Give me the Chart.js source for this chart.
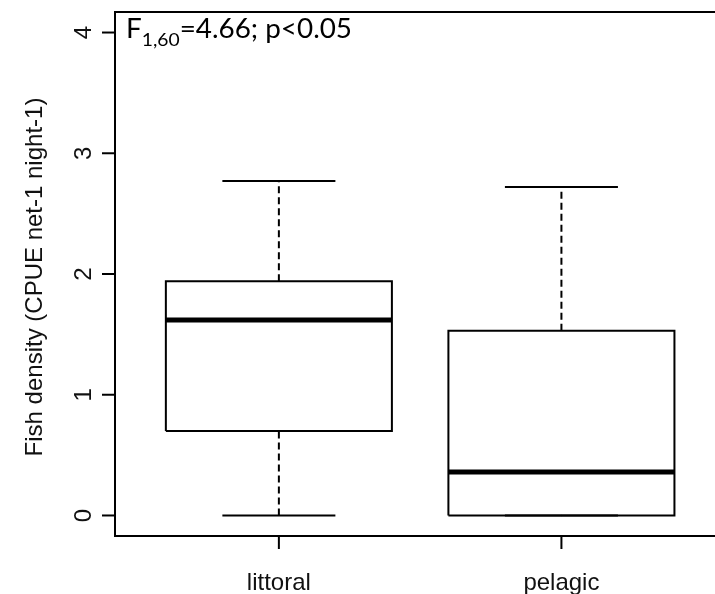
<!DOCTYPE html>
<html>
<head>
<meta charset="utf-8">
<script src="https://cdn.jsdelivr.net/npm/chart.js@4/dist/chart.umd.min.js"></script>
<style>
  html, body { margin: 0; padding: 0; background: #ffffff; }
  #c { display: block; }
</style>
</head>
<body>
<canvas id="c" width="715" height="594"></canvas>
<script>
// ---- Data ----
const categories   = ['littoral', 'pelagic'];
const positions    = [1, 2];
const whiskerLow   = [0.00, 0.00];
const quartile1    = [0.70, 0.00];
const medians      = [1.62, 0.36];
const quartile3    = [1.94, 1.53];
const whiskerHigh  = [2.77, 2.72];
const yTickValues  = [0, 1, 2, 3, 4];
const yAxisTitle   = 'Fish density (CPUE net-1 night-1)';
const statMain     = 'F';
const statSub      = '1,60';
const statRest     = '=4.66; p<0.05';

// ---- Geometry / style constants ----
const BOX_HALF = 0.4;
const CAP_HALF = 0.2;
const AXIS_FONT = '24px "Liberation Sans", Arial, sans-serif';

const datasets = [];
function seg(points, width, dash) {
  datasets.push({
    data: points,
    showLine: true,
    borderColor: '#000000',
    backgroundColor: '#000000',
    borderWidth: width,
    borderDash: dash || [],
    pointRadius: 0,
    pointHoverRadius: 0,
    fill: false,
    tension: 0,
    borderCapStyle: 'butt',
    borderJoinStyle: 'miter'
  });
}
categories.forEach((cat, i) => {
  const x = positions[i];
  // whiskers (dashed)
  seg([{x: x, y: quartile3[i]}, {x: x, y: whiskerHigh[i]}], 2, [7, 4]);
  seg([{x: x, y: whiskerLow[i]}, {x: x, y: quartile1[i]}], 2, [7, 4]);
  // caps
  seg([{x: x - CAP_HALF, y: whiskerHigh[i]}, {x: x + CAP_HALF, y: whiskerHigh[i]}], 2);
  seg([{x: x - CAP_HALF, y: whiskerLow[i]}, {x: x + CAP_HALF, y: whiskerLow[i]}], 2);
  // box
  seg([
    {x: x - BOX_HALF, y: quartile1[i]},
    {x: x + BOX_HALF, y: quartile1[i]},
    {x: x + BOX_HALF, y: quartile3[i]},
    {x: x - BOX_HALF, y: quartile3[i]},
    {x: x - BOX_HALF, y: quartile1[i]}
  ], 2);
  // median
  seg([{x: x - BOX_HALF, y: medians[i]}, {x: x + BOX_HALF, y: medians[i]}], 5);
});

const decorPlugin = {
  id: 'decor',
  beforeDraw(chart) {
    const ctx = chart.ctx;
    ctx.save();
    ctx.fillStyle = '#ffffff';
    ctx.fillRect(0, 0, chart.width, chart.height);
    ctx.restore();
  },
  afterDraw(chart) {
    const ctx = chart.ctx;
    const a = chart.chartArea;
    const xs = chart.scales.x, ys = chart.scales.y;
    ctx.save();
    ctx.strokeStyle = '#000000';
    ctx.fillStyle = '#111111';
    ctx.lineWidth = 2;
    ctx.lineCap = 'square';
    // frame
    ctx.beginPath();
    ctx.moveTo(chart.width + 5, a.top);
    ctx.lineTo(a.left, a.top);
    ctx.lineTo(a.left, a.bottom);
    ctx.lineTo(chart.width + 5, a.bottom);
    ctx.stroke();
    ctx.lineCap = 'butt';
    // y ticks + labels (rotated, R style)
    ctx.font = AXIS_FONT;
    yTickValues.forEach(v => {
      const py = ys.getPixelForValue(v);
      ctx.beginPath();
      ctx.moveTo(a.left - 13, py);
      ctx.lineTo(a.left, py);
      ctx.stroke();
      ctx.save();
      ctx.translate(a.left - 31, py);
      ctx.rotate(-Math.PI / 2);
      ctx.textAlign = 'center';
      ctx.textBaseline = 'middle';
      ctx.fillText(String(v), 0, 0);
      ctx.restore();
    });
    // x ticks + labels
    categories.forEach((cat, i) => {
      const px = xs.getPixelForValue(positions[i]);
      ctx.beginPath();
      ctx.moveTo(px, a.bottom);
      ctx.lineTo(px, a.bottom + 13);
      ctx.stroke();
      ctx.textAlign = 'center';
      ctx.textBaseline = 'alphabetic';
      ctx.fillText(cat, px, a.bottom + 54);
    });
    // y axis title
    ctx.save();
    ctx.translate(35, (a.top + a.bottom) / 2 + 3);
    ctx.rotate(-Math.PI / 2);
    ctx.textAlign = 'center';
    ctx.textBaseline = 'middle';
    ctx.fillText(yAxisTitle, 0, 0);
    ctx.restore();
    // statistic annotation
    const mainFont = '26px Lato, "Open Sans", sans-serif';
    const subFont = '18px Lato, "Open Sans", sans-serif';
    ctx.fillStyle = '#000000';
    ctx.textAlign = 'left';
    ctx.textBaseline = 'alphabetic';
    ctx.font = mainFont;
    const w1 = ctx.measureText(statMain).width;
    const w3 = ctx.measureText(statRest).width;
    ctx.font = subFont;
    const w2 = ctx.measureText(statSub).width;
    const total = w1 + w2 + w3;
    const target = 226;
    const sx = target / total;
    ctx.save();
    ctx.translate(a.left + 11, 38);
    ctx.scale(sx, 1);
    ctx.font = mainFont;
    ctx.fillText(statMain, 0, 0);
    ctx.font = subFont;
    ctx.fillText(statSub, w1, 8);
    ctx.font = mainFont;
    ctx.fillText(statRest, w1 + w2, 0);
    ctx.restore();
    ctx.restore();
  }
};

new Chart(document.getElementById('c'), {
  type: 'scatter',
  data: { datasets: datasets },
  options: {
    responsive: false,
    animation: false,
    events: [],
    layout: { padding: { left: 115, top: 12, right: 1, bottom: 58 } },
    scales: {
      x: { type: 'linear', min: 0.42, max: 2.54, display: false },
      y: { type: 'linear', min: -0.17, max: 4.17, display: false }
    },
    plugins: { legend: { display: false }, tooltip: { enabled: false } }
  },
  plugins: [decorPlugin]
});
</script>
</body>
</html>
